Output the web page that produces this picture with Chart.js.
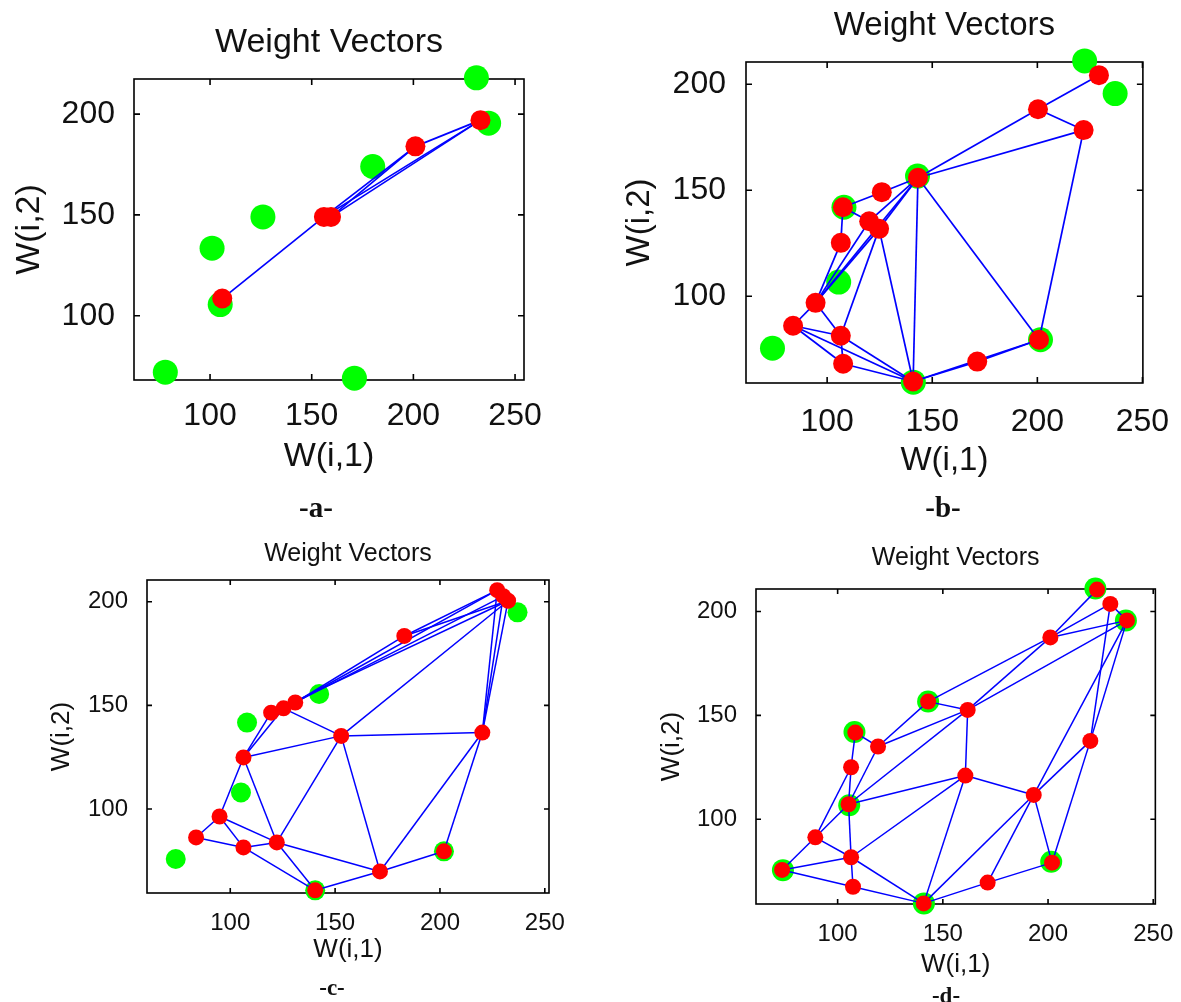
<!DOCTYPE html>
<html>
<head>
<meta charset="utf-8">
<script src="https://cdn.jsdelivr.net/npm/chart.js@4.4.1/dist/chart.umd.min.js"></script>
<style>
html,body{margin:0;padding:0;background:#fff;width:1181px;height:1002px;overflow:hidden;position:relative}
canvas{position:absolute}
.cap{position:absolute;font-family:"Liberation Serif","Times New Roman",serif;font-weight:bold;color:#111;transform:translate(-50%,-50%);white-space:nowrap;z-index:5}
</style>
</head>
<body>
<canvas id="ca"></canvas>
<canvas id="cb"></canvas>
<canvas id="cc"></canvas>
<canvas id="cd"></canvas>
<div class="cap" id="capA"></div>
<div class="cap" id="capB"></div>
<div class="cap" id="capC"></div>
<div class="cap" id="capD"></div>
<script>
// ---------------- text ----------------
const titleText = 'Weight Vectors';
const xLabel = 'W(i,1)';
const yLabel = 'W(i,2)';
const captions = ['-a-', '-b-', '-c-', '-d-'];
const xTickValues = [100, 150, 200, 250];
const yTickValues = [100, 150, 200];

// ---------------- panel a data ----------------
const aSamplesX = [231, 237, 180, 126, 101, 105, 78, 171];
const aSamplesY = [218, 195.5, 174, 149, 133.5, 105.5, 72, 69];
const aNodesX = [106, 156, 159.5, 201, 233];
const aNodesY = [108.5, 149, 149, 184, 197];
const aEdges = [[0,1],[1,2],[1,3],[2,3],[1,4],[2,4],[3,4]];
const aXRange = [62.6, 254.4];
const aYRange = [68.1, 217.4];

// ---------------- shared input samples (panels b, d) ----------------
const samplesX = [222.5, 237, 74, 105.5, 143, 108, 201.5, 141];
const samplesY = [211, 195.6, 75.5, 106.7, 156.7, 142, 79.5, 59.5];

// ---------------- panel b data ----------------
const bNodesX = [229.3, 200.3, 222, 143.2, 126, 107.5, 120, 124.7, 106.5, 94.5, 83.8, 106.5, 107.6, 140.9, 171.4, 200.8];
const bNodesY = [204.3, 188.2, 178.4, 155.9, 149.1, 142, 135.4, 131.8, 125.2, 96.9, 86.1, 81.4, 68.2, 59.8, 69.2, 79.5];
const bEdges = [[0,1],[1,2],[1,3],[2,3],[2,15],[3,15],[3,13],[3,4],[4,5],[5,6],[5,8],[6,7],[3,6],[3,7],[3,9],[6,9],[7,9],[8,9],[7,11],[7,13],[9,10],[9,11],[10,11],[10,12],[11,12],[11,13],[12,13],[10,13],[13,14],[14,15],[13,15]];
const bXRange = [61.4, 250.2];
const bYRange = [59.1, 210.5];

// ---------------- panel c data ----------------
const cSamplesX = [237, 142.4, 108, 105.1, 74, 201.9, 140.5];
const cSamplesY = [194.9, 155.5, 141.7, 108, 75.9, 79.6, 60.8];
const cNodesX = [227.3, 230.2, 232.5, 183, 131, 125.4, 119.5, 152.9, 220.2, 106.3, 94.9, 83.7, 106.3, 122.2, 171.4, 201.9, 140.5];
const cNodesY = [205.6, 202.7, 200.5, 183.5, 151.4, 148.6, 146.5, 135.3, 136.9, 124.9, 96.4, 86.3, 81.5, 83.9, 69.9, 79.6, 60.8];
const cEdges = [[0,1],[1,2],[0,3],[2,3],[3,4],[0,4],[1,5],[2,6],[2,7],[0,8],[1,8],[2,8],[4,5],[5,6],[6,9],[5,9],[5,7],[9,7],[7,8],[7,13],[7,14],[9,10],[9,13],[10,11],[10,12],[10,13],[11,12],[12,13],[12,16],[13,16],[13,14],[16,14],[14,15],[14,8],[15,8]];
const cXRange = [60.3, 252];
const cYRange = [59.5, 210.5];

// ---------------- panel d data ----------------
const dNodesX = [223.3, 229.6, 237.5, 201.1, 143, 161.8, 108.4, 119.2, 106.4, 220.1, 160.7, 193.2, 105.2, 89.4, 106.4, 73.6, 201.9, 107.3, 171.3, 140.9];
const dNodesY = [210.5, 203.6, 195.7, 187.5, 156.6, 152.6, 141.7, 135, 125, 137.7, 121, 111.7, 107.2, 91.3, 81.7, 75.6, 79.1, 67.5, 69.5, 59.5];
const dEdges = [[0,3],[1,3],[1,2],[2,3],[1,9],[2,9],[2,5],[2,11],[3,4],[3,5],[4,5],[4,7],[5,7],[5,10],[5,12],[6,7],[6,8],[7,12],[8,12],[8,13],[10,12],[10,14],[10,19],[10,11],[9,11],[11,16],[11,18],[11,19],[9,16],[16,18],[18,19],[17,19],[14,19],[14,17],[14,15],[12,14],[13,14],[15,17],[13,15],[12,13]];
const dXRange = [61.2, 251];
const dYRange = [59.2, 210.8];

// ---------------- layout / style (not data) ----------------
const FONT = '"Liberation Sans", Arial, sans-serif';
const layouts = {
  a: {left:0, top:0, w:590, h:500, padR:66, yW:134, xH:120, tf:34, tpt:22, tpb:16.2, kf:32, xkp:8.8, ykp:11, af:34, xtp:22.6, ytp:9.6, gr:12.5, rr:10, lw:1.7, tick:6},
  b: {left:590, top:0, w:591, h:500, padR:34, yW:156, xH:117, tf:33, tpt:6, tpb:16.4, kf:32, xkp:11.8, ykp:12, af:33, xtp:19.2, ytp:30.2, gr:12.5, rr:10, lw:1.7, tick:6},
  c: {left:0, top:520, w:590, h:482, padR:41, yW:147, xH:109, tf:25, tpt:19, tpb:11, kf:24, xkp:7.6, ykp:11, af:26, xtp:36.4, ytp:46.4, gr:10, rr:8, lw:1.5, tick:5},
  d: {left:590, top:520, w:591, h:482, padR:24, yW:166, xH:98, tf:25, tpt:23, tpb:16, kf:24, xkp:7.6, ykp:11, af:26, xtp:21.4, ytp:66.4, gr:11, rr:8, lw:1.5, tick:5}
};
const capPos = [{x:316,y:507,s:29},{x:943,y:507,s:29},{x:332,y:988,s:23},{x:946,y:996,s:23}];

const boxPlugin = {
  id: 'matlabBox',
  beforeDatasetsDraw(chart, args, opts) {
    const {ctx, chartArea} = chart;
    const {left, right, top, bottom} = chartArea;
    const xs = chart.scales.x, ys = chart.scales.y;
    ctx.save();
    ctx.strokeStyle = '#000';
    ctx.lineWidth = 1.6;
    ctx.strokeRect(left, top, right - left, bottom - top);
    ctx.beginPath();
    xs.ticks.forEach(t => {
      const p = xs.getPixelForValue(t.value);
      ctx.moveTo(p, bottom); ctx.lineTo(p, bottom - opts.len);
      ctx.moveTo(p, top); ctx.lineTo(p, top + opts.len);
    });
    ys.ticks.forEach(t => {
      const p = ys.getPixelForValue(t.value);
      ctx.moveTo(left, p); ctx.lineTo(left + opts.len, p);
      ctx.moveTo(right, p); ctx.lineTo(right - opts.len, p);
    });
    ctx.stroke();
    ctx.restore();
  }
};

function build(id, L, d) {
  const canvas = document.getElementById(id);
  canvas.width = L.w; canvas.height = L.h;
  canvas.style.left = L.left + 'px'; canvas.style.top = L.top + 'px';
  canvas.style.width = L.w + 'px'; canvas.style.height = L.h + 'px';
  const datasets = [];
  datasets.push({
    label: 'weights',
    data: d.rx.map((x, i) => ({x: x, y: d.ry[i]})),
    pointRadius: L.rr, pointHoverRadius: L.rr,
    pointBackgroundColor: '#ff0000', pointBorderColor: '#ff0000', pointBorderWidth: 0,
    showLine: false, order: 0, clip: false
  });
  d.edges.forEach(e => {
    datasets.push({
      label: 'edge',
      data: [{x: d.rx[e[0]], y: d.ry[e[0]]}, {x: d.rx[e[1]], y: d.ry[e[1]]}],
      showLine: true, borderColor: '#0000ff', borderWidth: L.lw,
      pointRadius: 0, pointHoverRadius: 0, fill: false, order: 1, clip: false
    });
  });
  datasets.push({
    label: 'inputs',
    data: d.gx.map((x, i) => ({x: x, y: d.gy[i]})),
    pointRadius: L.gr, pointHoverRadius: L.gr,
    pointBackgroundColor: '#00ff00', pointBorderColor: '#00ff00', pointBorderWidth: 0,
    showLine: false, order: 2, clip: false
  });
  new Chart(canvas, {
    type: 'scatter',
    data: {datasets: datasets},
    plugins: [boxPlugin],
    options: {
      responsive: false, animation: false, devicePixelRatio: 1,
      events: [],
      layout: {padding: {left: 0, right: L.padR, top: 0, bottom: 0}},
      plugins: {
        legend: {display: false},
        tooltip: {enabled: false},
        matlabBox: {len: L.tick},
        title: {
          display: true, text: titleText, color: '#111', fullSize: false,
          font: {family: FONT, size: L.tf, weight: 'normal', lineHeight: 1.2},
          padding: {top: L.tpt, bottom: L.tpb}
        }
      },
      scales: {
        x: {
          type: 'linear', position: 'bottom', min: d.xr[0], max: d.xr[1],
          grid: {display: false}, border: {display: false},
          afterBuildTicks: s => { s.ticks = xTickValues.map(v => ({value: v})); },
          afterFit: s => { s.height = L.xH; },
          ticks: {color: '#111', font: {family: FONT, size: L.kf, lineHeight: 1.2}, padding: L.xkp, maxRotation: 0, autoSkip: false},
          title: {display: true, text: xLabel, color: '#111', font: {family: FONT, size: L.af, lineHeight: 1.2}, padding: {top: 0, bottom: L.xtp}}
        },
        y: {
          type: 'linear', position: 'left', min: d.yr[0], max: d.yr[1],
          grid: {display: false}, border: {display: false},
          afterBuildTicks: s => { s.ticks = yTickValues.map(v => ({value: v})); },
          afterFit: s => { s.width = L.yW; },
          ticks: {color: '#111', font: {family: FONT, size: L.kf, lineHeight: 1.2}, padding: L.ykp, autoSkip: false},
          title: {display: true, text: yLabel, color: '#111', font: {family: FONT, size: L.af, lineHeight: 1.2}, padding: {top: L.ytp, bottom: 0}}
        }
      }
    }
  });
}

build('ca', layouts.a, {gx: aSamplesX, gy: aSamplesY, rx: aNodesX, ry: aNodesY, edges: aEdges, xr: aXRange, yr: aYRange});
build('cb', layouts.b, {gx: samplesX, gy: samplesY, rx: bNodesX, ry: bNodesY, edges: bEdges, xr: bXRange, yr: bYRange});
build('cc', layouts.c, {gx: cSamplesX, gy: cSamplesY, rx: cNodesX, ry: cNodesY, edges: cEdges, xr: cXRange, yr: cYRange});
build('cd', layouts.d, {gx: samplesX, gy: samplesY, rx: dNodesX, ry: dNodesY, edges: dEdges, xr: dXRange, yr: dYRange});

['capA','capB','capC','capD'].forEach((id, i) => {
  const el = document.getElementById(id);
  el.textContent = captions[i];
  el.style.left = capPos[i].x + 'px';
  el.style.top = capPos[i].y + 'px';
  el.style.fontSize = capPos[i].s + 'px';
});
</script>
</body>
</html>
